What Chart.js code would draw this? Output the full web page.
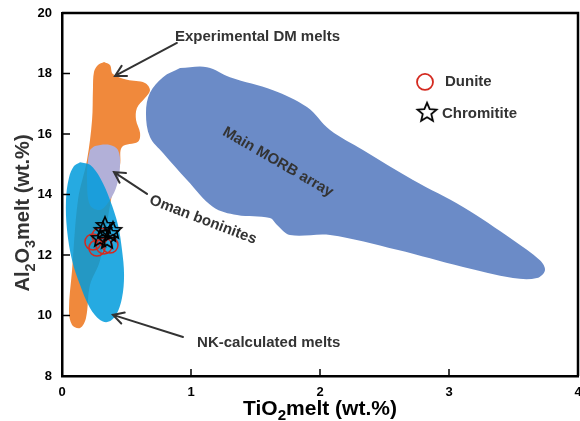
<!DOCTYPE html>
<html><head><meta charset="utf-8">
<script src="https://cdn.jsdelivr.net/npm/chart.js@4"></script>
<style>html,body{margin:0;padding:0;background:#fff}</style>
</head><body>
<canvas id="c" width="580" height="421"></canvas>
<script>
// ---- data (wt.%) ----
const xTicks = [0, 1, 2, 3, 4];
const yTicks = [8, 10, 12, 14, 16, 18, 20];

const morbField = [
  [0.915,18.18],[1.124,18.21],[1.302,17.88],[1.636,17.45],[1.899,16.89],[2.078,16.13],
  [2.333,15.47],[2.721,14.48],[3.109,13.59],[3.496,12.50],[3.705,11.83],[3.744,11.50],
  [3.682,11.24],[3.496,11.24],[3.109,11.60],[2.597,12.17],[2.078,12.66],[1.767,12.66],
  [1.667,12.99],[1.612,13.22],[1.357,13.32],[1.171,13.59],[0.969,14.48],[0.783,15.37],
  [0.682,15.90],[0.651,16.69],[0.682,17.36],[0.783,17.88],[0.915,18.18]
];
const dmMeltsField = [
  [0.326,18.38],[0.372,18.28],[0.395,17.98],[0.504,17.79],[0.643,17.69],[0.682,17.45],
  [0.643,17.19],[0.581,16.86],[0.574,16.46],[0.605,16.03],[0.589,15.74],[0.465,15.57],
  [0.450,14.98],[0.395,14.15],[0.295,11.83],[0.217,11.01],[0.186,9.92],[0.140,9.59],
  [0.078,9.69],[0.054,10.18],[0.078,11.50],[0.124,13.82],[0.194,15.14],[0.233,16.46],
  [0.240,17.50],[0.248,18.05],[0.279,18.28],[0.326,18.38]
];
const omanField = [
  [0.217,15.47],[0.256,15.60],[0.372,15.64],[0.434,15.47],[0.450,14.98],[0.426,14.31],
  [0.372,13.82],[0.295,13.49],[0.217,13.65],[0.194,14.48],[0.202,15.14],[0.217,15.47]
];
const nkField = [
  [0.140,15.07],[0.217,14.98],[0.295,14.55],[0.372,13.82],[0.434,12.99],[0.465,12.17],
  [0.481,11.34],[0.465,10.58],[0.419,10.02],[0.357,9.79],[0.295,9.85],[0.217,10.25],
  [0.140,11.01],[0.078,11.83],[0.039,12.83],[0.031,13.82],[0.054,14.55],[0.093,14.94],
  [0.140,15.07]
];
const duniteX = [0.240, 0.295, 0.326, 0.372, 0.271];
const duniteY = [12.43, 12.63, 12.30, 12.33, 12.23];
const chromititeX = [0.318, 0.372, 0.295, 0.395, 0.349, 0.333];
const chromititeY = [12.83, 12.73, 12.56, 12.83, 12.50, 12.99];

// ---- labels ----
const notes = [
  {text:'Experimental DM melts', x:0.876, y:19.21, rot:0,  align:'left'},
  {text:'Main MORB array',       x:1.674, y:15.07, rot:30, align:'center'},
  {text:'Oman boninites',        x:1.093, y:13.16, rot:21, align:'center'},
  {text:'NK-calculated melts',   x:1.047, y:9.09,  rot:0,  align:'left'}
];
const arrows = [
  {from:[0.891,19.01], to:[0.411,17.92]},
  {from:[0.659,14.02], to:[0.403,14.74]},
  {from:[0.938,9.29],  to:[0.395,10.02]}
];

const toXY = arr => arr.map(p => ({x:p[0], y:p[1]}));
const zip = (xs, ys) => xs.map((x,i) => ({x, y:ys[i]}));

function starCanvas(R, lw){
  const s = Math.ceil(R*2 + lw*2 + 2);
  const cv = document.createElement('canvas'); cv.width = s; cv.height = s;
  const g = cv.getContext('2d');
  const c = s/2, r = R*0.45;
  g.beginPath();
  for (let i=0;i<10;i++){
    const a = -Math.PI/2 + i*Math.PI/5;
    const rr = i%2 ? r : R;
    const px = c + rr*Math.cos(a), py = c + rr*Math.sin(a) + R*0.08;
    i ? g.lineTo(px,py) : g.moveTo(px,py);
  }
  g.closePath(); g.lineJoin='miter'; g.lineWidth = lw; g.strokeStyle = '#000'; g.stroke();
  return cv;
}
const starPt = starCanvas(9, 1.6);
const starLeg = starCanvas(10, 1.8);

function shape(data, color, order){
  return {data: toXY(data), showLine:true, fill:'shape', backgroundColor:color,
    borderColor:'rgba(0,0,0,0)', borderWidth:0, pointRadius:0, tension:0.35, order};
}

const BOLD = '"Liberation Sans", Arial, sans-serif';

function drawSubText(ctx, parts, size, cx, cy){
  ctx.textBaseline = 'alphabetic';
  let w = 0;
  parts.forEach(p => { ctx.font = 'bold ' + (p.sub ? size*0.72 : size) + 'px ' + BOLD; p.w = ctx.measureText(p.t).width; w += p.w; });
  let x = cx - w/2;
  const base = cy + size*0.36;
  parts.forEach(p => {
    ctx.font = 'bold ' + (p.sub ? size*0.72 : size) + 'px ' + BOLD;
    ctx.textAlign = 'left';
    ctx.fillText(p.t, x, p.sub ? base + size*0.28 : base);
    x += p.w;
  });
}

const decor = {
  id:'decor',
  afterDatasetsDraw(chart){
    const {ctx, chartArea:a, scales:{x, y}} = chart;
    ctx.save();
    // arrows
    ctx.strokeStyle = '#333'; ctx.lineWidth = 2; ctx.lineCap = 'round';
    arrows.forEach(ar => {
      const x1 = x.getPixelForValue(ar.from[0]), y1 = y.getPixelForValue(ar.from[1]);
      const x2 = x.getPixelForValue(ar.to[0]),   y2 = y.getPixelForValue(ar.to[1]);
      const ang = Math.atan2(y2-y1, x2-x1), L = 12, sp = 0.5;
      ctx.beginPath(); ctx.moveTo(x1,y1); ctx.lineTo(x2,y2);
      ctx.moveTo(x2 - L*Math.cos(ang-sp), y2 - L*Math.sin(ang-sp)); ctx.lineTo(x2,y2);
      ctx.lineTo(x2 - L*Math.cos(ang+sp), y2 - L*Math.sin(ang+sp));
      ctx.stroke();
    });
    // notes
    ctx.fillStyle = '#333'; ctx.font = 'bold 15px ' + BOLD; ctx.textBaseline = 'middle';
    notes.forEach(n => {
      ctx.save();
      ctx.translate(x.getPixelForValue(n.x), y.getPixelForValue(n.y));
      ctx.rotate(n.rot*Math.PI/180);
      ctx.textAlign = n.align; ctx.fillText(n.text, 0, 0);
      ctx.restore();
    });
    // legend
    const lx = x.getPixelForValue(2.814), ly1 = y.getPixelForValue(17.72), ly2 = y.getPixelForValue(16.73);
    ctx.beginPath(); ctx.arc(lx, ly1, 8, 0, Math.PI*2); ctx.strokeStyle = '#d42a20'; ctx.lineWidth = 1.8; ctx.stroke();
    ctx.fillStyle = '#333'; ctx.textAlign = 'left';
    ctx.fillText('Dunite', x.getPixelForValue(2.969), ly1);
    ctx.drawImage(starLeg, lx + 2 - starLeg.width/2, ly2 - starLeg.height/2);
    ctx.fillText('Chromitite', x.getPixelForValue(2.946), ly2 + 2);
    ctx.restore();
  },
  afterDraw(chart){
    const {ctx, chartArea:a, scales:{x, y}} = chart;
    ctx.save();
    ctx.strokeStyle = '#000'; ctx.lineWidth = 2.5;
    ctx.beginPath();
    ctx.moveTo(a.left, a.top); ctx.lineTo(a.right, a.top); ctx.lineTo(a.right, a.bottom);
    ctx.stroke();
    ctx.lineWidth = 1.5;
    ctx.beginPath();
    xTicks.forEach(v => { const px = x.getPixelForValue(v); if (v>0 && v<4){ ctx.moveTo(px, a.bottom); ctx.lineTo(px, a.bottom-7);} });
    yTicks.forEach(v => { const py = y.getPixelForValue(v); if (v>8 && v<20){ ctx.moveTo(a.left, py); ctx.lineTo(a.left+8, py);} });
    ctx.stroke();
    // axis titles
    ctx.fillStyle = '#000';
    drawSubText(ctx, [{t:'TiO'},{t:'2',sub:true},{t:'melt (wt.%)'}], 21, (a.left+a.right)/2, 407);
    ctx.save();
    ctx.translate(22, 213); ctx.rotate(-Math.PI/2);
    ctx.fillStyle = '#333';
    drawSubText(ctx, [{t:'Al'},{t:'2',sub:true},{t:'O'},{t:'3',sub:true},{t:'melt (wt.%)'}], 20, 0, 0);
    ctx.restore();
    ctx.restore();
  }
};

new Chart(document.getElementById('c'), {
  type:'scatter',
  data:{datasets:[
    shape(morbField, '#6b8bc7', 6),
    shape(dmMeltsField, '#f0893c', 5),
    shape(omanField, '#b2b0d8', 4),
    shape(nkField, 'rgba(0,155,220,0.85)', 3),
    {data: zip(duniteX, duniteY), pointStyle:'circle', pointRadius:8, pointBorderColor:'#d42a20',
      pointBackgroundColor:'rgba(0,0,0,0)', pointBorderWidth:1.5, showLine:false, order:2},
    {data: zip(chromititeX, chromititeY), pointStyle:starPt, pointRadius:9, showLine:false, order:1}
  ]},
  options:{
    responsive:false, animation:false, devicePixelRatio:1,
    layout:{autoPadding:false, padding:{top:13, right:2, left:0, bottom:0}},
    plugins:{legend:{display:false}, tooltip:{enabled:false}, filler:{propagate:false}},
    scales:{
      x:{type:'linear', min:0, max:4,
        afterBuildTicks: s => { s.ticks = xTicks.map(v => ({value:v})); },
        afterFit: s => { s.height = 45; s.paddingLeft = 0; s.paddingRight = 0; },
        grid:{display:false, drawTicks:false},
        border:{display:true, color:'#000', width:2.5},
        ticks:{color:'#000', padding:9, font:{family:BOLD, size:13, weight:'bold'}}},
      y:{type:'linear', min:8, max:20,
        afterBuildTicks: s => { s.ticks = yTicks.map(v => ({value:v})); },
        afterFit: s => { s.width = 62; s.paddingTop = 0; s.paddingBottom = 0; },
        grid:{display:false, drawTicks:false},
        border:{display:true, color:'#000', width:2.5},
        ticks:{color:'#000', padding:10, font:{family:BOLD, size:13, weight:'bold'}}}
    }
  },
  plugins:[decor]
});
</script>
</body></html>
